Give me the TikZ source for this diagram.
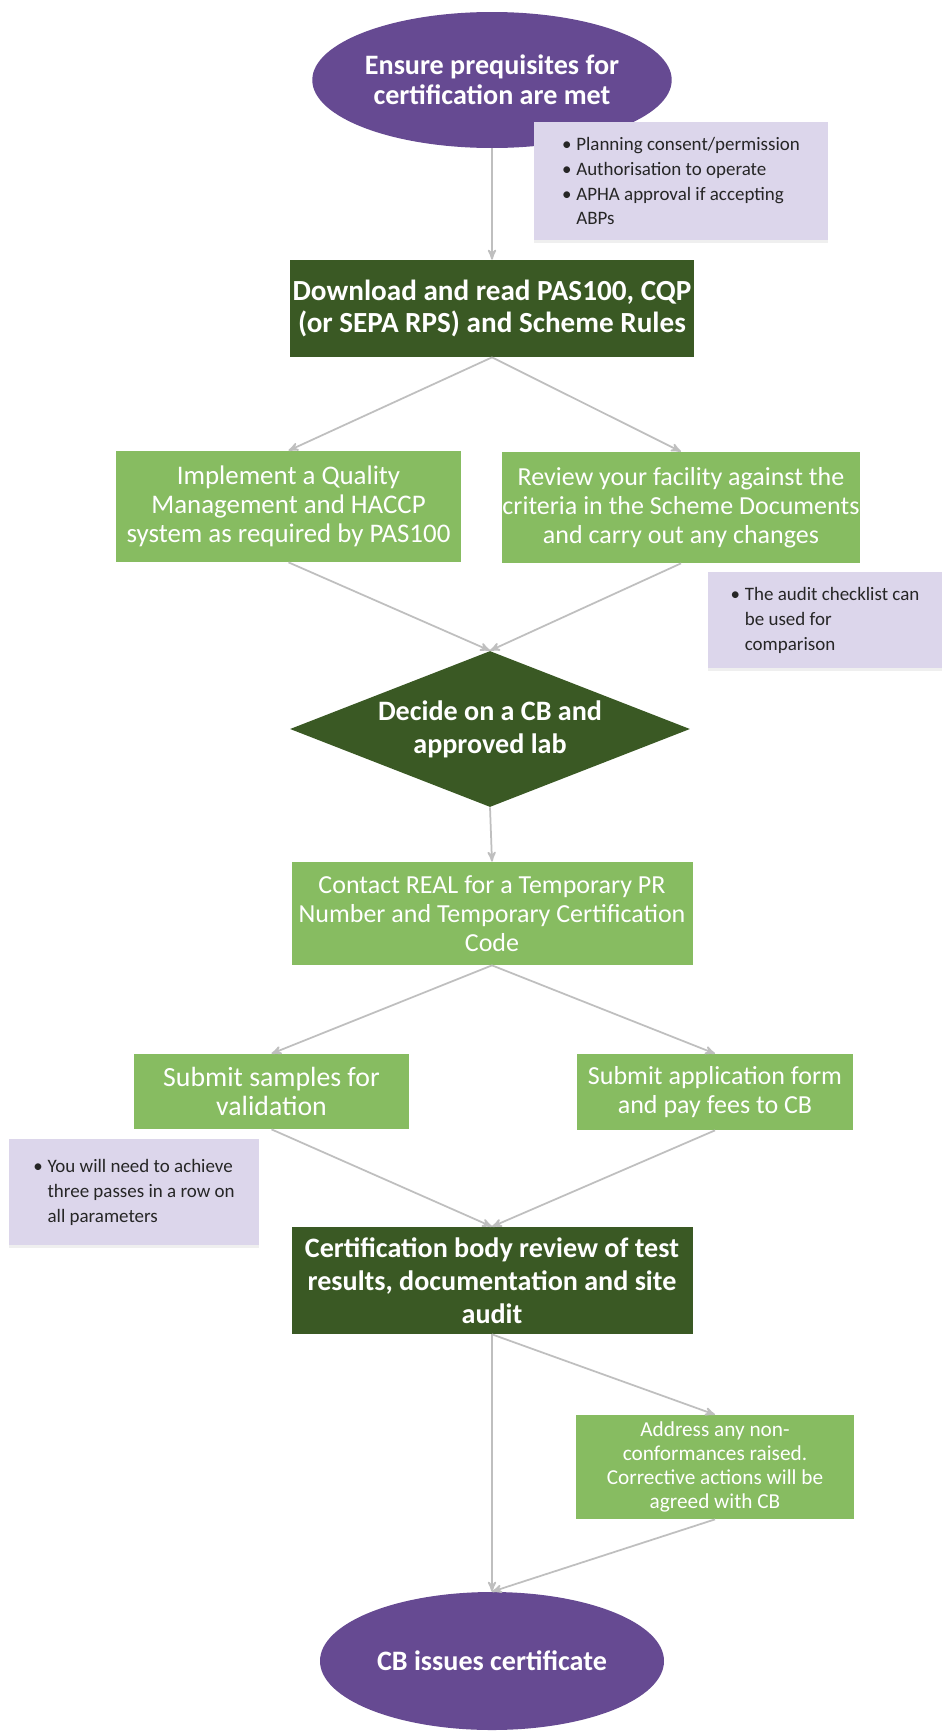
\documentclass[tikz,border=0pt]{standalone}
\usepackage{fontspec}
\setmainfont{Carlito}
\usetikzlibrary{arrows,shapes.geometric,shadows}
\definecolor{P}{RGB}{102,74,146}
\definecolor{DG}{RGB}{58,89,36}
\definecolor{LG}{RGB}{135,188,97}
\definecolor{LV}{RGB}{220,214,235}
\definecolor{GR}{RGB}{191,191,191}
\newcommand{\itm}{\makebox[0.75em][l]{\textbullet}}
\newcommand{\cnt}{\hspace*{0.75em}}

\begin{document}
\begin{tikzpicture}[x=0.2mm,y=-0.2mm,
  ell/.style={ellipse, fill=P, text=white, inner sep=0pt, align=center,
    font=\fontsize{16}{17.2}\selectfont\bfseries},
  dark/.style={rectangle, fill=DG, text=white, inner sep=0pt, align=center,
    font=\fontsize{16}{18.7}\selectfont\bfseries},
  light/.style={rectangle, fill=LG, text=white, inner sep=0pt, align=center,
    font=\fontsize{14.8}{16.4}\selectfont},
  note/.style={rectangle, fill=LV, text=black!85, inner sep=0pt, align=left,
    font=\fontsize{10.8}{14.2}\selectfont,
    drop shadow={opacity=0.12, shadow xshift=0mm, shadow yshift=-0.5mm}},
  link/.style={draw=GR, line width=0.35mm, -stealth'}]
  \fill[white] (0,0) rectangle (942,1731);
  \useasboundingbox (0,0) rectangle (942,1731);

  % start and prerequisites
  \node[ell, minimum width=68.8mm, minimum height=27.2mm] (start) at (492,80)
    {Ensure prequisites for\\certification are met};
  \node[note, minimum width=58.8mm, minimum height=23.6mm] (prereq) at (681,181)
    {\itm Planning consent/permission\\ \itm Authorisation to operate\\
     \itm APHA approval if accepting\\ \cnt ABPs};

  % read the documents
  \node[dark, minimum width=80.8mm, minimum height=19.4mm,
    font=\fontsize{16.6}{18.7}\selectfont\bfseries] (read) at (492,308.5)
    {Download and read PAS100, CQP\\(or SEPA RPS) and Scheme Rules};
  \node[light, minimum width=69mm, minimum height=22.2mm,
    font=\fontsize{15.3}{16.4}\selectfont] (qms) at (288.5,506.5)
    {Implement a Quality\\Management and HACCP\\system as required by PAS100};
  \node[light, minimum width=68.8mm, minimum height=22.2mm] (review) at (681,507.5)
    {Review your facility against the\\criteria in the Scheme Documents\\and carry out any changes};
  \node[note, minimum width=46.8mm, minimum height=19.2mm] (audit) at (825,620)
    {\itm The audit checklist can\\ \cnt be used for\\ \cnt comparison};

  % choose CB
  \node[diamond, aspect=2.56, fill=DG, text=white, inner sep=0pt, align=center,
    font=\fontsize{16}{18.7}\selectfont\bfseries,
    minimum width=80mm, minimum height=31.2mm] (decide) at (490,729)
    {Decide on a CB and\\approved lab};
  \node[light, minimum width=80.2mm, minimum height=20.6mm] (real) at (492,913.5)
    {Contact REAL for a Temporary PR\\Number and Temporary Certification\\Code};
  \node[light, minimum width=55mm, minimum height=15mm,
    font=\fontsize{15.8}{16.4}\selectfont] (samples) at (271.5,1091.5)
    {Submit samples for\\validation};
  \node[light, minimum width=55.2mm, minimum height=15.2mm] (apply) at (715,1092)
    {Submit application form\\and pay fees to CB};
  \node[note, minimum width=50mm, minimum height=21.2mm] (passes) at (134,1192)
    {\itm You will need to achieve\\ \cnt three passes in a row on\\ \cnt all parameters};

  % review and certificate
  \node[dark, minimum width=80.2mm, minimum height=21.4mm] (cbrev) at (492,1280.5)
    {Certification body review of test\\results, documentation and site\\audit};
  \node[light, minimum width=55.6mm, minimum height=20.8mm,
    font=\fontsize{12.1}{13.6}\selectfont] (ncs) at (715,1467)
    {Address any non-\\conformances raised.\\Corrective actions will be\\agreed with CB};
  \node[ell, minimum width=68.8mm, minimum height=27.6mm] (cert) at (492,1661)
    {CB issues certificate};

  % connectors
  \draw[link] (start.south) -- (read.north);
  \draw[link] (read.south) -- (qms.north);
  \draw[link] (read.south) -- (review.north);
  \draw[link] (qms.south) -- (decide.north);
  \draw[link] (review.south) -- (decide.north);
  \draw[link] (decide.south) -- (real.north);
  \draw[link] (real.south) -- (samples.north);
  \draw[link] (real.south) -- (apply.north);
  \draw[link] (samples.south) -- (cbrev.north);
  \draw[link] (apply.south) -- (cbrev.north);
  \draw[link] (cbrev.south) -- (ncs.north);
  \draw[link] (cbrev.south) -- (cert.north);
  \draw[link] (ncs.south) -- (cert.north);
\end{tikzpicture}
\end{document}
